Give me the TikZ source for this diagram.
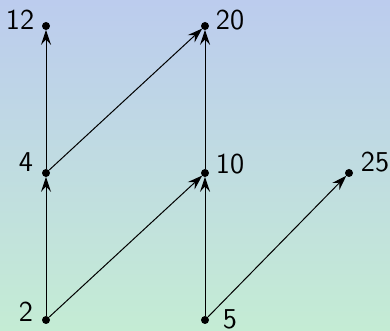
\documentclass[tikz,border=0pt]{standalone}
\usepackage{tikz}
\usetikzlibrary{arrows.meta,positioning,calc}
\definecolor{bgtop}{RGB}{188,204,238}
\definecolor{bgbottom}{RGB}{196,236,212}
\tikzset{
  dot/.style={circle, fill=black, inner sep=0pt, minimum size=4pt},
  lbl/.style={font=\sffamily\fontsize{14.4}{16}\selectfont, inner sep=0pt},
  arrow/.style={-{Stealth[length=7.5pt,width=5pt,inset=2.6pt]}, line width=0.5pt, shorten >=-0.3pt}
}
\begin{document}
\begin{tikzpicture}[x=0.5pt,y=0.5pt]
  \shade[top color=bgtop, bottom color=bgbottom] (0,0) rectangle (390,331);
  \useasboundingbox (0,0) rectangle (390,331);
  % divisibility points
  \node[dot] (n12) at (46,305) {};
  \node[dot] (n20) at (205,305) {};
  \node[dot] (n4) at (46,158) {};
  \node[dot] (n10) at (205,158) {};
  \node[dot] (n25) at (349,158) {};
  \node[dot] (n2) at (46,11) {};
  \node[dot] (n5) at (205,11) {};
  % labels
  \node[lbl] (l12) at ([shift={(-13pt,3pt)}]n12) {12};
  \node[lbl] (l20) at ([shift={(12.5pt,3pt)}]n20) {20};
  \node[lbl] (l4) at ([shift={(-10pt,5.5pt)}]n4) {4};
  \node[lbl] (l10) at ([shift={(12.5pt,4.5pt)}]n10) {10};
  \node[lbl] (l25) at ([shift={(13pt,5.5pt)}]n25) {25};
  \node[lbl] (l2) at ([shift={(-10pt,4pt)}]n2) {2};
  \node[lbl] (l5) at ([shift={(12.5pt,0.5pt)}]n5) {5};
  \draw[arrow] (n2) -- (n4);
  \draw[arrow] (n4) -- (n12);
  \draw[arrow] (n4) -- (n20);
  \draw[arrow] (n10) -- (n20);
  \draw[arrow] (n2) -- (n10);
  \draw[arrow] (n5) -- (n10);
  \draw[arrow] (n5) -- (n25);
\end{tikzpicture}
\end{document}
